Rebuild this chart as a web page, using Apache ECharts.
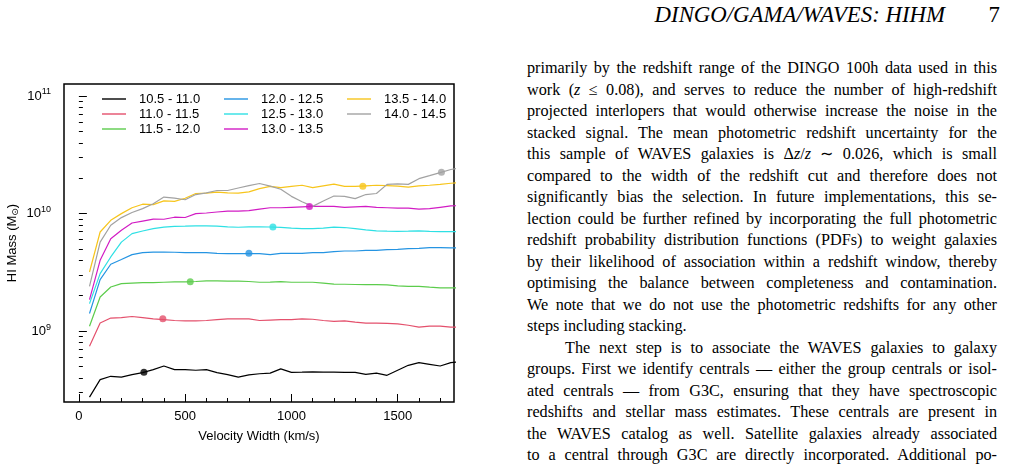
<!DOCTYPE html>
<html>
<head>
<meta charset="utf-8">
<script src="https://cdn.jsdelivr.net/npm/echarts@6/dist/echarts.min.js"></script>
<style>
  html, body { margin: 0; padding: 0; background: #fff; }
  #page { position: relative; width: 1011px; height: 471px; overflow: hidden; }
  #chart { position: absolute; left: 0; top: 0; width: 510px; height: 471px; }
  #head { position: absolute; left: 560px; top: 1px; width: 440px; height: 28px;
    font-family: "Liberation Serif", serif; font-style: italic; font-size: 22.8px; line-height: 28px; }
  #head .t { position: absolute; right: 55px; }
  #head .n { position: absolute; right: 0; font-style: normal; }
  #text { position: absolute; left: 527px; top: 58px; width: 470px;
    font-family: "Liberation Serif", serif; font-size: 16.2px; line-height: 21.5px; color: #000; }
  #text div { text-align: justify; text-align-last: justify; white-space: nowrap; }
  #text div.last { text-align-last: left; }
  #text div.ind { text-indent: 38px; }
</style>
</head>
<body>
<div id="page">
  <div id="chart"></div>
  <div id="head"><span class="t">DINGO/GAMA/WAVES: HIHM</span><span class="n">7</span></div>
  <div id="text">
    <div>primarily by the redshift range of the DINGO 100h data used in this</div>
    <div>work (<i>z</i> ≤ 0.08), and serves to reduce the number of high-redshift</div>
    <div>projected interlopers that would otherwise increase the noise in the</div>
    <div>stacked signal. The mean photometric redshift uncertainty for the</div>
    <div>this sample of WAVES galaxies is Δ<i>z</i>/<i>z</i> ∼ 0.026, which is small</div>
    <div>compared to the width of the redshift cut and therefore does not</div>
    <div>significantly bias the selection. In future implementations, this se-</div>
    <div>lection could be further refined by incorporating the full photometric</div>
    <div>redshift probability distribution functions (PDFs) to weight galaxies</div>
    <div>by their likelihood of association within a redshift window, thereby</div>
    <div>optimising the balance between completeness and contamination.</div>
    <div>We note that we do not use the photometric redshifts for any other</div>
    <div class="last">steps including stacking.</div>
    <div class="ind">The next step is to associate the WAVES galaxies to galaxy</div>
    <div>groups. First we identify centrals — either the group centrals or isol-</div>
    <div>ated centrals — from G3C, ensuring that they have spectroscopic</div>
    <div>redshifts and stellar mass estimates. These centrals are present in</div>
    <div>the WAVES catalog as well. Satellite galaxies already associated</div>
    <div>to a central through G3C are directly incorporated. Additional po-</div>
  </div>
</div>
<script>
// velocity width bins (km/s)
const velocity = [50, 100, 150, 200, 250, 300, 350, 400, 450, 500, 550, 600, 650, 700, 750, 800, 850, 900,
  950, 1000, 1050, 1100, 1150, 1200, 1250, 1300, 1350, 1400, 1450, 1500, 1550, 1600, 1650, 1700, 1750, 1800];

// halo mass bins
const groups = ['10.5 - 11.0', '11.0 - 11.5', '11.5 - 12.0', '12.0 - 12.5', '12.5 - 13.0', '13.0 - 13.5', '13.5 - 14.0', '14.0 - 14.5'];
const colors = ['#000000', '#e4506c', '#5ccc4c', '#2594e2', '#2ee0e4', '#d21cc4', '#f7c51c', '#a2a2a2'];

// HI mass per bin (Msun)
const m105 = [2.74e8, 3.86e8, 4.12e8, 4.06e8, 4.26e8, 4.43e8, 4.69e8, 5.04e8, 4.69e8, 4.69e8, 4.64e8, 4.69e8,
  4.43e8, 4.26e8, 4.06e8, 4.23e8, 4.33e8, 4.38e8, 4.76e8, 4.45e8, 4.47e8, 4.50e8, 4.47e8, 4.47e8,
  4.45e8, 4.45e8, 4.28e8, 4.38e8, 4.20e8, 4.64e8, 5.11e8, 5.38e8, 5.21e8, 5.04e8, 5.38e8, 5.50e8];
const m110 = [7.42e8, 1.17e9, 1.29e9, 1.30e9, 1.33e9, 1.30e9, 1.27e9, 1.25e9, 1.23e9, 1.22e9, 1.22e9, 1.23e9,
  1.25e9, 1.27e9, 1.27e9, 1.27e9, 1.23e9, 1.24e9, 1.25e9, 1.25e9, 1.27e9, 1.26e9, 1.23e9, 1.21e9,
  1.22e9, 1.19e9, 1.17e9, 1.17e9, 1.16e9, 1.15e9, 1.12e9, 1.08e9, 1.10e9, 1.10e9, 1.08e9, 1.08e9];
const m115 = [1.10e9, 1.95e9, 2.37e9, 2.53e9, 2.56e9, 2.58e9, 2.58e9, 2.60e9, 2.62e9, 2.62e9, 2.64e9, 2.67e9,
  2.67e9, 2.66e9, 2.66e9, 2.64e9, 2.60e9, 2.61e9, 2.63e9, 2.60e9, 2.60e9, 2.60e9, 2.56e9, 2.51e9,
  2.50e9, 2.49e9, 2.48e9, 2.48e9, 2.47e9, 2.42e9, 2.40e9, 2.40e9, 2.36e9, 2.33e9, 2.33e9, 2.33e9];
const m120 = [1.41e9, 2.74e9, 3.70e9, 4.06e9, 4.47e9, 4.65e9, 4.70e9, 4.70e9, 4.68e9, 4.65e9, 4.65e9, 4.65e9,
  4.58e9, 4.55e9, 4.55e9, 4.56e9, 4.56e9, 4.47e9, 4.58e9, 4.58e9, 4.58e9, 4.65e9, 4.65e9, 4.74e9,
  4.80e9, 4.80e9, 4.86e9, 4.86e9, 4.93e9, 4.95e9, 5.02e9, 5.05e9, 5.13e9, 5.13e9, 5.10e9, 5.10e9];
const m125 = [1.71e9, 3.08e9, 4.27e9, 5.71e9, 6.74e9, 7.10e9, 7.43e9, 7.67e9, 7.78e9, 7.80e9, 7.85e9, 7.85e9,
  7.80e9, 7.70e9, 7.64e9, 7.70e9, 7.70e9, 7.68e9, 7.62e9, 7.50e9, 7.44e9, 7.45e9, 7.52e9, 7.67e9,
  7.60e9, 7.45e9, 7.25e9, 7.12e9, 7.08e9, 7.06e9, 7.08e9, 7.12e9, 7.05e9, 7.00e9, 7.02e9, 7.02e9];
const m130 = [1.85e9, 4.00e9, 6.10e9, 7.20e9, 8.30e9, 8.63e9, 8.97e9, 8.94e9, 9.30e9, 9.25e9, 9.98e9, 1.01e10,
  1.03e10, 1.05e10, 1.05e10, 1.06e10, 1.09e10, 1.12e10, 1.12e10, 1.13e10, 1.14e10, 1.15e10, 1.15e10, 1.15e10,
  1.13e10, 1.14e10, 1.15e10, 1.13e10, 1.12e10, 1.11e10, 1.11e10, 1.09e10, 1.10e10, 1.13e10, 1.16e10, 1.17e10];
const m135 = [3.18e9, 6.96e9, 8.75e9, 9.98e9, 1.12e10, 1.20e10, 1.19e10, 1.28e10, 1.27e10, 1.35e10, 1.48e10, 1.49e10,
  1.52e10, 1.50e10, 1.49e10, 1.53e10, 1.63e10, 1.70e10, 1.66e10, 1.70e10, 1.74e10, 1.66e10, 1.72e10, 1.78e10,
  1.70e10, 1.70e10, 1.72e10, 1.74e10, 1.73e10, 1.71e10, 1.68e10, 1.72e10, 1.74e10, 1.77e10, 1.81e10, 1.83e10];
const m140 = [2.40e9, 5.71e9, 7.95e9, 9.23e9, 1.02e10, 1.10e10, 1.21e10, 1.38e10, 1.35e10, 1.31e10, 1.45e10, 1.50e10,
  1.57e10, 1.57e10, 1.65e10, 1.73e10, 1.80e10, 1.71e10, 1.61e10, 1.40e10, 1.26e10, 1.15e10, 1.28e10, 1.41e10,
  1.40e10, 1.34e10, 1.45e10, 1.48e10, 1.77e10, 1.79e10, 1.77e10, 1.98e10, 2.10e10, 2.23e10, 2.37e10, 2.45e10];
const masses = [m105, m110, m115, m120, m125, m130, m135, m140];

// highlighted point on each curve [velocity, HI mass]
const markers = [[306, 4.46e8], [395, 1.27e9], [524, 2.63e9], [800, 4.58e9],
  [913, 7.67e9], [1085, 1.15e10], [1336, 1.71e10], [1706, 2.25e10]];

// tick labels / tick positions
const xMajor = [0, 500, 1000, 1500];
const xMinor = [100, 200, 300, 400, 600, 700, 800, 900, 1100, 1200, 1300, 1400, 1600, 1700];
const yMajor = [1e9, 1e10, 1e11];
const yMinor = [3e8, 4e8, 5e8, 6e8, 7e8, 8e8, 9e8, 2e9, 3e9, 4e9, 5e9, 6e9, 7e9, 8e9, 9e9,
  2e10, 3e10, 4e10, 5e10, 6e10, 7e10, 8e10, 9e10];

const chart = echarts.init(document.getElementById('chart'));
const font = 'Liberation Sans';
const gridBox = { left: 64, top: 84, width: 390, height: 318, outerBoundsMode: 'none', containLabel: false };
const xMin = -70, xMax = 1765, yMin = 2.49e8, yMax = 1.265e11;

const series = [];
groups.forEach((g, i) => {
  series.push({
    name: g, type: 'line', symbol: 'none', showSymbol: false,
    data: velocity.map((v, k) => [v, masses[i][k]]),
    lineStyle: { color: colors[i], width: 1.2 },
    itemStyle: { color: colors[i] },
    z: 3
  });
  series.push({
    name: g + ' pt', type: 'scatter', symbolSize: 7,
    data: [markers[i]],
    itemStyle: { color: colors[i] },
    z: 4
  });
});

const legendBase = {
  orient: 'vertical', top: 87, icon: 'rect', itemWidth: 24, itemHeight: 1.4, itemGap: 1,
  textStyle: { fontFamily: font, fontSize: 13, color: '#000', lineHeight: 14, padding: [0, 0, 0, 8] }
};

chart.setOption({
  animation: false,
  textStyle: { fontFamily: font },
  grid: [
    Object.assign({ show: true, borderColor: '#000', borderWidth: 1.5, backgroundColor: 'transparent' }, gridBox),
    Object.assign({ show: false }, gridBox)
  ],
  legend: [
    Object.assign({ left: 97, data: groups.slice(0, 3) }, legendBase),
    Object.assign({ left: 219, data: groups.slice(3, 6) }, legendBase),
    Object.assign({ left: 342, data: groups.slice(6, 8) }, legendBase)
  ],
  xAxis: [
    {
      type: 'value', gridIndex: 0, min: xMin, max: xMax,
      name: 'Velocity Width (km/s)', nameLocation: 'middle', nameGap: 28, nameMoveOverlap: false,
      nameTextStyle: { fontFamily: font, fontSize: 13, color: '#000' },
      axisLine: { show: false },
      axisTick: { inside: true, length: 8, customValues: xMajor, lineStyle: { color: '#000', width: 1 } },
      axisLabel: { customValues: xMajor, fontSize: 13, color: '#000', margin: 8, formatter: v => String(v) },
      splitLine: { show: false }
    },
    {
      type: 'value', gridIndex: 1, min: xMin, max: xMax,
      axisLine: { show: false },
      axisTick: { inside: true, length: 4, customValues: xMinor, lineStyle: { color: '#000', width: 1 } },
      axisLabel: { show: false },
      splitLine: { show: false }
    }
  ],
  yAxis: [
    {
      type: 'log', logBase: 10, gridIndex: 0, min: yMin, max: yMax,
      name: 'HI Mass (M{sub|⊙})', nameLocation: 'middle', nameGap: 44, nameMoveOverlap: false,
      nameTextStyle: { fontFamily: font, fontSize: 13, color: '#000',
        rich: { sub: { fontSize: 9, verticalAlign: 'bottom', padding: [6, 0, 0, 0], fontFamily: 'DejaVu Sans' } } },
      axisLine: { show: false },
      axisTick: { inside: true, length: 8, customValues: yMajor, lineStyle: { color: '#000', width: 1 } },
      axisLabel: {
        customValues: yMajor, color: '#000', fontSize: 13, margin: 13,
        formatter: v => '10{e|' + Math.round(Math.log10(v)) + '}',
        rich: { e: { fontSize: 9, verticalAlign: 'top', padding: [0, 0, 8, 0] } }
      },
      splitLine: { show: false }
    },
    {
      type: 'log', logBase: 10, gridIndex: 1, min: yMin, max: yMax,
      axisLine: { show: false },
      axisTick: { inside: true, length: 4, customValues: yMinor, lineStyle: { color: '#000', width: 1 } },
      axisLabel: { show: false },
      splitLine: { show: false }
    }
  ],
  series: series
});
</script>
</body>
</html>
